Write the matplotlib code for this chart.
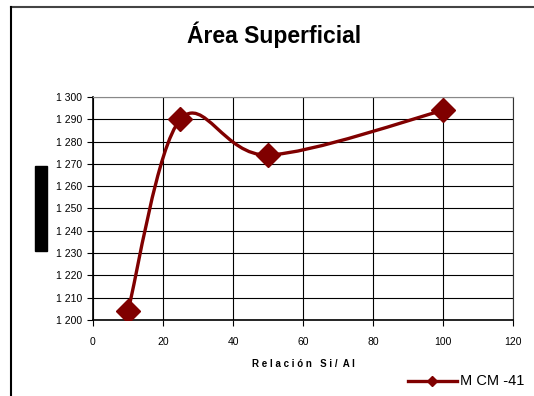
import numpy as np
import matplotlib
matplotlib.use("Agg")
import matplotlib.pyplot as plt
from matplotlib.path import Path
from matplotlib.patches import PathPatch, Rectangle
from matplotlib.lines import Line2D
from matplotlib.ticker import FuncFormatter

plt.rcParams['font.family'] = ['Liberation Sans', 'DejaVu Sans']

# datos
si_al = [10, 25, 50, 100]
area = [1204, 1290, 1274, 1294]
serie = "M CM -41"
color = '#800000'

fig = plt.figure(figsize=(5.34, 3.96), dpi=100)
ax = fig.add_axes([0.174, 0.192, 0.787, 0.563])

# linea suavizada (bezier tipo Excel) a partir de los puntos
pts = np.column_stack([si_al, area]).astype(float)
n = len(pts)
verts = [pts[0]]
codes = [Path.MOVETO]
for i in range(n - 1):
    p0 = pts[i - 1] if i > 0 else pts[i]
    p1 = pts[i]
    p2 = pts[i + 1]
    p3 = pts[i + 2] if i + 2 < n else pts[i + 1]
    verts += [p1 + (p2 - p0) / 6, p2 - (p3 - p1) / 6, p2]
    codes += [Path.CURVE4] * 3
ax.add_patch(PathPatch(Path(verts, codes), facecolor='none', edgecolor=color,
                       lw=2.4, zorder=3, capstyle='round', joinstyle='round'))
ax.plot(si_al, area, ls='none', marker='D', ms=12.5, color=color, zorder=4)

ax.set_xlim(0, 120)
ax.set_ylim(1200, 1300)
ax.set_xticks(range(0, 121, 20))
ax.set_yticks(range(1200, 1301, 10))
ax.yaxis.set_major_formatter(FuncFormatter(lambda v, p: f"{int(v):,}".replace(",", " ")))
ax.grid(True, color='black', lw=0.8)
ax.set_axisbelow(True)
ax.tick_params(labelsize=7.5, length=4, width=0.8)
ax.tick_params(axis='x', pad=8)
ax.tick_params(axis='y', pad=4)
for s in ax.spines.values():
    s.set_linewidth(0.8)
ax.spines['top'].set_color('#888888')
ax.spines['right'].set_color('#333333')
ax.spines['left'].set_linewidth(1.2)
ax.spines['bottom'].set_linewidth(1.2)

fig.text(0.514, 0.912, "Área Superficial", ha='center', va='center',
         fontsize=16.5, fontweight='bold')
ax.set_xlabel("R e l a c i ó n   S i /  A l", fontsize=7, fontweight='bold', labelpad=9)

# bloque negro (titulo del eje y)
fig.add_artist(Rectangle((35 / 534, 1 - 251 / 396), 12 / 534, 85 / 396,
                         transform=fig.transFigure, color='black'))

# marco
fig.add_artist(Line2D([11 / 534, 1], [1 - 7 / 396] * 2, transform=fig.transFigure,
                      color='#444444', lw=1.5))
fig.add_artist(Line2D([11 / 534] * 2, [0, 1 - 7 / 396], transform=fig.transFigure,
                      color='black', lw=1.5))

# leyenda
fig.add_artist(Line2D([408 / 534, 457 / 534], [1 - 381 / 396] * 2, transform=fig.transFigure,
                      color=color, lw=2.4))
fig.add_artist(Line2D([432 / 534], [1 - 381 / 396], transform=fig.transFigure,
                      color=color, marker='D', ms=5, ls='none'))
fig.text(460 / 534, 1 - 381 / 396, serie, ha='left', va='center', fontsize=10.5)

fig.savefig("out.png", dpi=100)
